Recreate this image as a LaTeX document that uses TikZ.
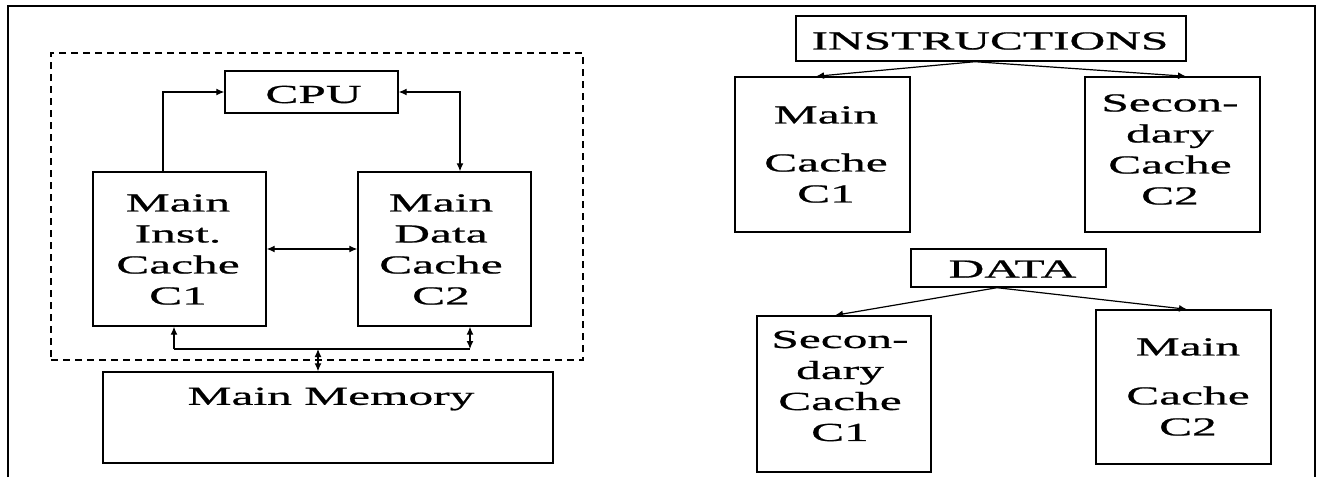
\documentclass[tikz,border=0pt]{standalone}
\usepackage{fontspec}
\setmainfont{Liberation Serif}[FakeStretch=1.9,FakeBold=0.8]
\usetikzlibrary{arrows.meta}
\begin{document}
\begin{tikzpicture}[x=1pt,y=-1pt,
  box/.style={draw, line width=1.4pt, inner sep=0pt},
  txt/.style={align=center, inner sep=0pt, font=\fontsize{26}{31}\selectfont},
  tip/.style={},
  arr/.style={line width=1.2pt, -{Latex[length=8pt,width=7pt]}},
  darr/.style={line width=1.2pt, {Latex[length=8pt,width=7pt]}-{Latex[length=8pt,width=7pt]}},
  ln/.style={line width=1.2pt}]
\useasboundingbox (0,0) rectangle (1318,477);
% outer frame
\draw[line width=1.3pt] (8,477) -- (8,6) -- (1315,6) -- (1315,477);

% ---------- left part ----------
\node[box, line width=1.3pt, dash pattern=on 7pt off 5pt, minimum width=532pt, minimum height=307pt] (area) at (317,206.5) {};
\node[box, minimum width=173pt, minimum height=42pt] (cpu) at (311.5,92) {};
\node[txt] (cpuT) at (313.5,94.5) {CPU};
\node[box, minimum width=173pt, minimum height=154pt] (ic) at (179.5,249) {};
\node[txt] (icT) at (178,249.5) {Main\\Inst.\\Cache\\C1};
\node[box, minimum width=173pt, minimum height=154pt] (dc) at (444.5,249) {};
\node[txt] (dcT) at (441,249.5) {Main\\Data\\Cache\\C2};
\node[box, minimum width=450pt, minimum height=91pt] (mem) at (328,417.5) {};
\node[txt] (memT) at (331,399) {Main Memory};

\draw[arr] ([xshift=-16.5pt]ic.north) |- (cpu.west);
\draw[darr] (cpu.east) -| ([xshift=15.5pt]dc.north);
\draw[darr] (ic.east) -- (dc.west);

\coordinate (busL) at (174,349);
\coordinate (busM) at (318,349);
\coordinate (busR) at (470,349);
\draw[ln] (busL) -- (busR);
\draw[arr] (busL) -- (ic.south -| busL);
\draw[darr] (busR) -- (dc.south -| busR);
\draw[darr] (busM) -- (mem.north -| busM);

% ---------- right part ----------
\node[box, minimum width=390pt, minimum height=45pt] (instr) at (991,38.5) {};
\node[txt] (instrT) at (990,41) {INSTRUCTIONS};
\node[box, minimum width=175pt, minimum height=155pt] (mc1) at (822.5,154.5) {};
\node[txt] (mc1T) at (826,154.5) {Main\\[17pt]Cache\\C1};
\node[box, minimum width=175pt, minimum height=155pt] (sc2) at (1172.5,154.5) {};
\node[txt] (sc2T) at (1170,149.5) {Secon-\\dary\\Cache\\C2};

\node[box, minimum width=195pt, minimum height=38pt] (data) at (1008.5,268) {};
\node[txt] (dataT) at (1012.5,269) {DATA};
\node[box, minimum width=174pt, minimum height=156pt] (sc1) at (844,394) {};
\node[txt] (sc1T) at (840,386) {Secon-\\dary\\Cache\\C1};
\node[box, minimum width=175pt, minimum height=154pt] (mc2) at (1183.5,387) {};
\node[txt] (mc2T) at (1188,387) {Main\\[18pt]Cache\\C2};

\draw[arr] ([xshift=-16pt]instr.south) -- ([xshift=-6.5pt]mc1.north);
\draw[arr] ([xshift=-16pt]instr.south) -- ([xshift=13.5pt]sc2.north);
\draw[arr] ([xshift=-11.5pt]data.south) -- ([xshift=-9pt]sc1.north);
\draw[arr] ([xshift=-11.5pt]data.south) -- ([xshift=3.5pt]mc2.north);
\end{tikzpicture}
\end{document}
